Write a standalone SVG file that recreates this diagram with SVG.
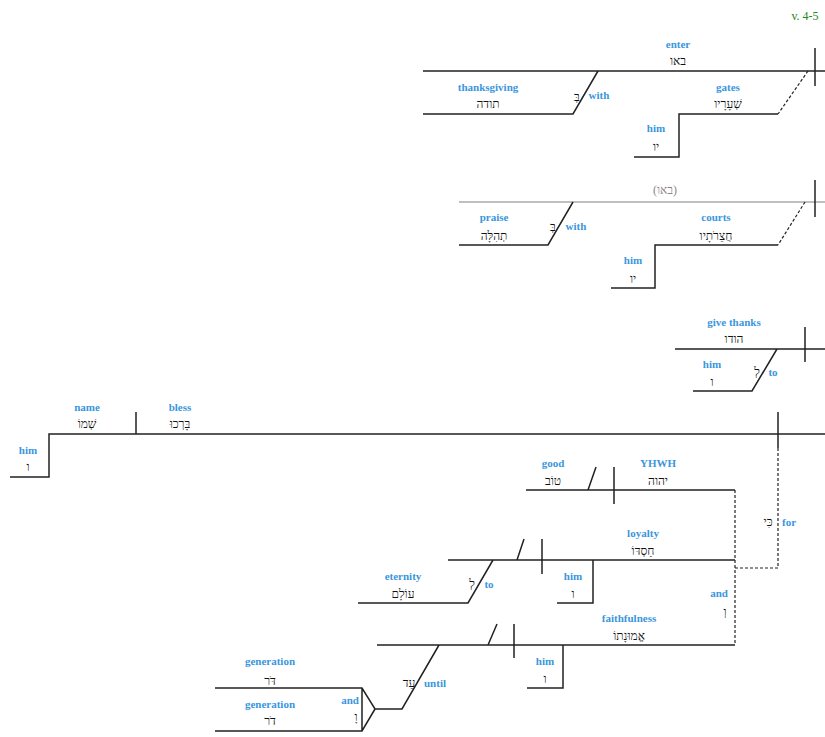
<svg xmlns="http://www.w3.org/2000/svg" width="825" height="737" viewBox="0 0 825 737">
<style>
.l{stroke:#222;stroke-width:1.5;fill:none}
.d{stroke:#222;stroke-width:1.2;fill:none;stroke-dasharray:3,2}
.g{stroke:#aaa;stroke-width:1.5;fill:none}
.e{font-family:"Liberation Serif",serif;font-weight:bold;font-size:11px;fill:#3a96dd;text-anchor:middle}
.h{font-family:"Liberation Serif","DejaVu Serif",serif;font-size:12px;fill:#111;text-anchor:middle}
</style>
<rect width="825" height="737" fill="#fff"/>
<text x="805" y="20" style="font-family:'Liberation Serif',serif;font-size:12px;fill:#228822" text-anchor="middle">v. 4-5</text>
<g id="connectors">
<path class="l" d="M423 71H825M815 48V86M598 71L573 114H423M778 114H679V157H634"/>
<path class="d" d="M808 71L778 114"/>
<path class="g" d="M459 202H825"/>
<path class="l" d="M815 180V217M573 202L548 245H459M778 245H655V288H611"/>
<path class="d" d="M805 202L778 245"/>
<path class="l" d="M675 349H825M805 327V362M777 349L752 391H693"/>
<path class="l" d="M10 477H49V434H825M136 412V434M778 412V448"/>
<path class="d" d="M778 448V568H735M735 490V645"/>
<path class="l" d="M526 490H735M614 467V504M596 467L588 490"/>
<path class="l" d="M448 560H735M524 539L517 560M542 539V574M593 560V603H557M493 560L468 603H358"/>
<path class="l" d="M377 645H735M497 624L488 645M514 624V658M563 645V688H527M439 645L402 709H375L362 688H215M375 709L362 731H215M362 688V731"/>
</g>
<g id="n1"><text class="e" x="678" y="48">enter</text><text class="h" x="678" y="65">באו</text></g>
<g id="n2"><text class="e" x="488" y="91">thanksgiving</text><text class="h" x="488" y="108">תודה</text><text class="h" x="577" y="101">בְּ</text><text class="e" x="599" y="99">with</text></g>
<g id="n3"><text class="e" x="728" y="91">gates</text><text class="h" x="728" y="108">שְׁעָרָיו</text></g>
<g id="n4"><text class="e" x="656" y="132">him</text><text class="h" x="656" y="151">יו</text></g>
<g id="n5"><text x="665" y="194" class="h" style="fill:#888">(באו)</text></g>
<g id="n6"><text class="e" x="494" y="221">praise</text><text class="h" x="494" y="240">תְהִלָּה</text><text class="h" x="553" y="231">בְּ</text><text class="e" x="576" y="230">with</text></g>
<g id="n7"><text class="e" x="716" y="221">courts</text><text class="h" x="716" y="240">חֲצֵרֹתָיו</text></g>
<g id="n8"><text class="e" x="633" y="264">him</text><text class="h" x="633" y="283">יו</text></g>
<g id="n9"><text class="e" x="734" y="326">give thanks</text><text class="h" x="734" y="343">הודו</text></g>
<g id="n10"><text class="e" x="712" y="368">him</text><text class="h" x="712" y="386">ו</text><text class="h" x="757" y="376">לְ</text><text class="e" x="773" y="376">to</text></g>
<g id="n11"><text class="e" x="87" y="411">name</text><text class="h" x="87" y="428">שְׁמוֹ</text></g>
<g id="n12"><text class="e" x="180" y="411">bless</text><text class="h" x="180" y="428">בָּרְכוּ</text></g>
<g id="n13"><text class="e" x="28" y="454">him</text><text class="h" x="28" y="471">ו</text></g>
<g id="n14"><text class="h" x="768" y="526">כִּי</text><text class="e" x="789" y="526">for</text></g>
<g id="n15"><text class="e" x="553" y="467">good</text><text class="h" x="553" y="485">טוֹב</text></g>
<g id="n16"><text class="e" x="658" y="467">YHWH</text><text class="h" x="658" y="485">יהוה</text></g>
<g id="n17"><text class="e" x="643" y="537">loyalty</text><text class="h" x="643" y="555">חַסְדּוֹ</text></g>
<g id="n18"><text class="e" x="573" y="580">him</text><text class="h" x="573" y="598">ו</text></g>
<g id="n19"><text class="e" x="403" y="580">eternity</text><text class="h" x="403" y="598">עוֹלָם</text><text class="h" x="472" y="588">לְ</text><text class="e" x="489" y="588">to</text></g>
<g id="n20"><text class="e" x="719" y="597">and</text><text class="h" x="725" y="616">וְ</text></g>
<g id="n21"><text class="e" x="629" y="622">faithfulness</text><text class="h" x="629" y="640">אֱמוּנָתוֹ</text></g>
<g id="n22"><text class="e" x="545" y="665">him</text><text class="h" x="545" y="683">ו</text></g>
<g id="n23"><text class="h" x="409" y="687">עַד</text><text class="e" x="435" y="687">until</text></g>
<g id="n24"><text class="e" x="270" y="665">generation</text><text class="h" x="270" y="685">דֹּר</text></g>
<g id="n25"><text class="e" x="270" y="708">generation</text><text class="h" x="270" y="725">דֹר</text><text class="e" x="350" y="704">and</text><text class="h" x="356" y="721">וָ</text></g>
</svg>
